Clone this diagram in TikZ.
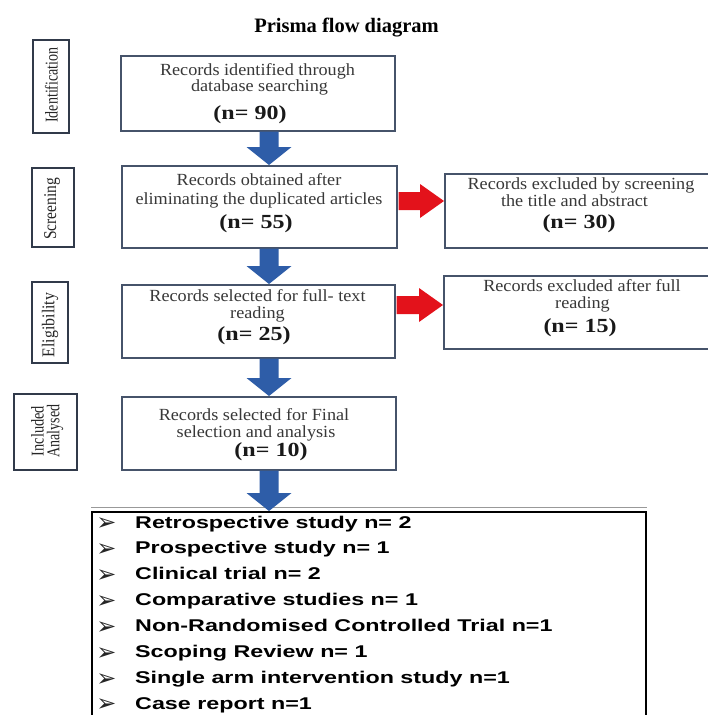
\documentclass[tikz,border=0pt]{standalone}
\usepackage{fontspec}
\usepackage{graphicx}
\setmainfont{Liberation Serif}
\newfontfamily\lsans{Liberation Sans}
\newfontfamily\djv{DejaVu Sans}
\usetikzlibrary{calc}
\definecolor{abl}{HTML}{2E5DA8}
\definecolor{ard}{HTML}{E3121B}
\definecolor{bord}{HTML}{46536A}
\definecolor{txt}{HTML}{383838}
\newcommand{\sx}[1]{\scalebox{1.07}[1]{#1}}
\newcommand{\bluearrow}[2]{%
  \path[fill=abl] let \p1=(#1.south), \p2=(#2.north) in
  (259.5pt,\y1) -- (278.5pt,\y1) -- (278.5pt,\y2+18pt) -- (291.5pt,\y2+18pt)
  -- (269pt,\y2) -- (246.5pt,\y2+18pt) -- (259.5pt,\y2+18pt) -- cycle;}
\newcommand{\redarrow}[3]{%
  \path[fill=ard] let \p1=(#1.east), \p2=(#2.west) in
  (\x1+1pt,-#3pt+9pt) -- (\x2-24pt,-#3pt+9pt) -- (\x2-24pt,-#3pt+17pt)
  -- (\x2,-#3pt) -- (\x2-24pt,-#3pt-17pt) -- (\x2-24pt,-#3pt-9pt)
  -- (\x1+1pt,-#3pt-9pt) -- cycle;}
\begin{document}
\begin{tikzpicture}[x=1pt,y=-1pt,
  mbox/.style={draw=bord, line width=1.6pt, rectangle, inner sep=0pt, anchor=north west},
  sbox/.style={draw=bord!70!black, line width=1.6pt, rectangle, inner sep=0pt, anchor=north west},
  ln/.style={anchor=base, inner sep=0pt, text=txt, font=\fontsize{17}{17}\selectfont},
  nn/.style={anchor=base, inner sep=0pt, text=black!90, font=\bfseries\fontsize{20}{20}\selectfont},
  lab/.style={rotate=90, inner sep=0pt, text=black!85, font=\fontsize{18}{18}\selectfont},
  li/.style={anchor=base west, inner sep=0pt, text=black, font=\lsans\bfseries\fontsize{17}{17}\selectfont},
  bul/.style={anchor=center, inner sep=0pt, text=black!85, font=\djv\fontsize{24}{24}\selectfont}]
\useasboundingbox (0,0) rectangle (708,715);
\fill[white] (0,0) rectangle (708,715);

% title
\node[anchor=base, inner sep=0pt, font=\bfseries\fontsize{20.5}{20.5}\selectfont] (title) at (346.5,32) {Prisma flow diagram};

% side boxes
\node[sbox, minimum width=36pt, minimum height=93pt] (s1) at (32,39) {};
\node[sbox, minimum width=42pt, minimum height=79pt] (s2) at (31,167) {};
\node[sbox, minimum width=36pt, minimum height=81pt] (s3) at (31,281) {};
\node[sbox, minimum width=63pt, minimum height=76pt] (s4) at (13,393) {};
\node[lab] (l1) at (51.5,85) {\scalebox{0.78}[1]{Identification}};
\node[lab] (l2) at (52,209) {\scalebox{0.86}[1]{Screening}};
\node[lab] (l3) at (50,325) {\scalebox{0.88}[1]{Eligibility}};
\node[lab] (l4a) at (37.5,431) {\scalebox{0.8}[1]{Included}};
\node[lab] (l4b) at (55,431) {\scalebox{0.78}[1]{Analysed}};

% main boxes
\node[mbox, minimum width=274pt, minimum height=75pt] (b1) at (120,55) {};
\node[mbox, minimum width=275pt, minimum height=82pt] (b2) at (121,165) {};
\node[mbox, minimum width=273pt, minimum height=73pt] (b3) at (121,284) {};
\node[mbox, minimum width=274pt, minimum height=73pt] (b4) at (121,396) {};
\node[mbox, minimum width=268pt, minimum height=74pt] (r1) at (444,173) {};
\node[mbox, minimum width=269pt, minimum height=73pt] (r2) at (443,275) {};

% texts
\node[ln] (t1a) at (257.5,75) {\sx{Records identified through}};
\node[ln] (t1b) at (259.5,91.5) {\sx{database searching}};
\node[nn] (t1c) at (250,119) {\scalebox{1.2}[1]{(n= 90)}};
\node[ln] (t2a) at (259,185) {\sx{Records obtained after}};
\node[ln] (t2b) at (259,204) {\sx{eliminating the duplicated articles}};
\node[nn] (t2c) at (256,228) {\scalebox{1.2}[1]{(n= 55)}};
\node[ln] (t3a) at (257.5,301) {\sx{Records selected for full- text}};
\node[ln] (t3b) at (257.5,318) {\sx{reading}};
\node[nn] (t3c) at (254,340) {\scalebox{1.2}[1]{(n= 25)}};
\node[ln] (t4a) at (254,420) {\sx{Records selected for Final}};
\node[ln] (t4b) at (256,437) {\sx{selection and analysis}};
\node[nn] (t4c) at (271,456) {\scalebox{1.2}[1]{(n= 10)}};
\node[ln] (u1a) at (581,189) {\sx{Records excluded by screening}};
\node[ln] (u1b) at (574.5,206) {\sx{the title and abstract}};
\node[nn] (u1c) at (579,228) {\scalebox{1.2}[1]{(n= 30)}};
\node[ln] (u2a) at (582,291) {\sx{Records excluded after full}};
\node[ln] (u2b) at (582.5,308) {\sx{reading}};
\node[nn] (u2c) at (580,332) {\scalebox{1.2}[1]{(n= 15)}};

% bottom list box
\node[draw=black, line width=1.8pt, rectangle, inner sep=0pt, anchor=north west,
      minimum width=554pt, minimum height=215pt] (bl) at (91,511) {};
\draw[black!40, line width=1.2pt] ([yshift=3.5pt]bl.north west) -- ([yshift=3.5pt]bl.north east);
\foreach \t [count=\i from 0] in {Retrospective study n= 2, Prospective study n= 1,
   Clinical trial n= 2, Comparative studies n= 1, Non-Randomised Controlled Trial n=1,
   Scoping Review n= 1, Single arm intervention study n=1, Case report n=1}{
  \node[bul] (bu\i) at (106.5,{524.2+25.9*\i}) {➢};
  \node[li] (it\i) at (135,{528+25.9*\i}) {\scalebox{1.37}[1]{\t}};
}

% arrows
\bluearrow{b1}{b2}
\bluearrow{b2}{b3}
\bluearrow{b3}{b4}
\bluearrow{b4}{bl}
\redarrow{b2}{r1}{201}
\redarrow{b3}{r2}{305}
\end{tikzpicture}
\end{document}
